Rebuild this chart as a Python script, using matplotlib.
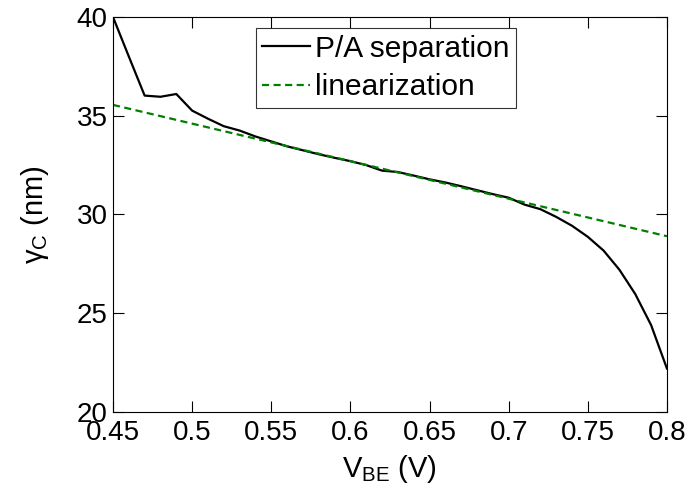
import numpy as np
import matplotlib
matplotlib.use('Agg')
import matplotlib.pyplot as plt

plt.rcParams['font.family'] = ['Liberation Sans', 'DejaVu Sans']
plt.rcParams['mathtext.fontset'] = 'custom'
plt.rcParams['mathtext.rm'] = 'Liberation Sans'
plt.rcParams['mathtext.it'] = 'Liberation Sans'

# base-emitter voltage sweep (V)
vbe = [0.45, 0.46, 0.47, 0.48, 0.49, 0.50, 0.51, 0.52, 0.53, 0.54,
       0.55, 0.56, 0.57, 0.58, 0.59, 0.60, 0.61, 0.62, 0.63, 0.64,
       0.65, 0.66, 0.67, 0.68, 0.69, 0.70, 0.71, 0.72, 0.73, 0.74,
       0.75, 0.76, 0.77, 0.78, 0.79, 0.80]

# gamma_C from P/A separation (nm)
gamma_pa = [40.0, 38.0, 36.02, 35.96, 36.1, 35.26, 34.85, 34.47, 34.25, 33.95,
            33.7, 33.45, 33.25, 33.05, 32.87, 32.7, 32.5, 32.22, 32.15, 31.97,
            31.78, 31.62, 31.43, 31.23, 31.03, 30.85, 30.5, 30.27, 29.88, 29.43,
            28.87, 28.17, 27.2, 25.97, 24.4, 22.2]

# linear fit endpoints
vbe_lin = [0.45, 0.80]
gamma_lin = [35.55, 28.9]

fig = plt.figure(figsize=(6.94, 4.98), dpi=100)
ax = fig.add_axes([0.1628, 0.1727, 0.7982, 0.7932])

ax.plot(vbe, gamma_pa, color='black', lw=1.6, label='P/A separation')
ax.plot(vbe_lin, gamma_lin, color='#008000', lw=1.6, ls=(0, (3.2, 2)),
        label='linearization')

ax.set_xlim(0.45, 0.8)
ax.set_ylim(20, 40)
ax.set_xticks([0.45, 0.5, 0.55, 0.6, 0.65, 0.7, 0.75, 0.8])
ax.set_xticklabels(['0.45', '0.5', '0.55', '0.6', '0.65', '0.7', '0.75', '0.8'])
ax.set_yticks([20, 25, 30, 35, 40])
ax.tick_params(direction='in', length=8, width=0.8, labelsize=20,
               top=True, right=True)
ax.tick_params(axis='x', pad=6)
ax.tick_params(axis='y', pad=4)

ax.set_xlabel(r'V$_{\mathrm{BE}}$ (V)', fontsize=21, labelpad=5)
ax.set_ylabel(r'γ$_{\mathrm{C}}$ (nm)', fontsize=21, labelpad=18)

leg = ax.legend(loc='upper left', bbox_to_anchor=(0.258, 0.972), fontsize=21.5,
                frameon=True, fancybox=False, edgecolor='black',
                handlelength=1.6, handletextpad=0.15, borderpad=0.22,
                labelspacing=0.36, borderaxespad=0)
leg.get_frame().set_linewidth(0.8)

fig.savefig('out.png', dpi=100)
